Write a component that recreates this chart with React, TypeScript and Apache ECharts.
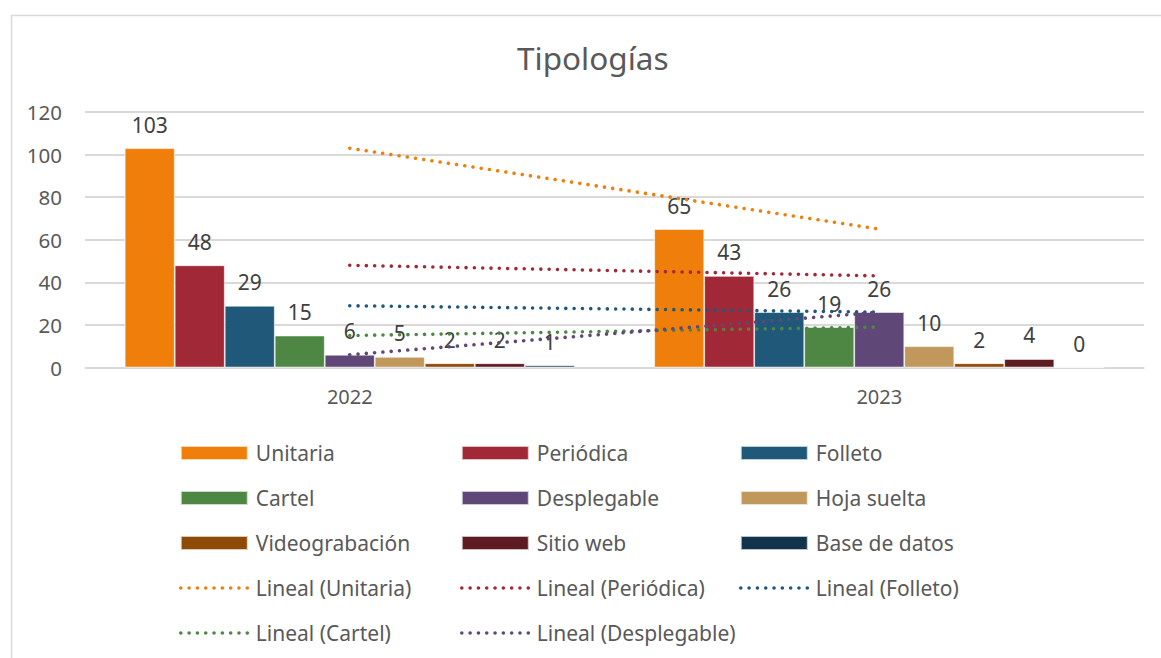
import React, { useEffect, useRef } from "react";
import * as echarts from "echarts";

const categories = ["2022", "2023"];
const barSeriesNames = [
  "Unitaria",
  "Periódica",
  "Folleto",
  "Cartel",
  "Desplegable",
  "Hoja suelta",
  "Videograbación",
  "Sitio web",
  "Base de datos",
];
const unitaria = [103, 65];
const periodica = [48, 43];
const folleto = [29, 26];
const cartel = [15, 19];
const desplegable = [6, 26];
const hojaSuelta = [5, 10];
const videograbacion = [2, 2];
const sitioWeb = [2, 4];
const baseDatos = [1, 0];
const barValues = [unitaria, periodica, folleto, cartel, desplegable, hojaSuelta, videograbacion, sitioWeb, baseDatos];
const barColors = ["#EF7F0A", "#A12836", "#1F5879", "#4E8743", "#5F4877", "#C1985C", "#8E4A07", "#5F1B22", "#11344A"];

const trendNames = ["Lineal (Unitaria)", "Lineal (Periódica)", "Lineal (Folleto)", "Lineal (Cartel)", "Lineal (Desplegable)"];
const trendValues = [unitaria, periodica, folleto, cartel, desplegable];
const trendColors = ["#EF7F0A", "#A12836", "#1F5879", "#4E8743", "#5F4877"];

const yTicks = { min: 0, max: 120, interval: 20 };

const FONT = "'Noto Sans', sans-serif";
const DOTS = [0.01, 8.3];

export default function App() {
  const ref = useRef<HTMLDivElement>(null);
  useEffect(() => {
    if (!ref.current) return;
    const chart = echarts.init(ref.current, null, { renderer: "svg" });
    const bars = barSeriesNames.map((name, i) => ({
      name,
      type: "bar",
      data: barValues[i],
      barGap: "0%",
      barCategoryGap: "15%",
      itemStyle: { color: barColors[i], borderColor: "rgba(255,255,255,0.7)", borderWidth: 0.8 },
      label: {
        show: true,
        position: "top",
        distance: 13,
        fontFamily: FONT,
        fontSize: 21,
        color: "#404040",
      },
      z: 2,
    }));
    const lines = trendNames.map((name, i) => ({
      name,
      type: "line",
      data: trendValues[i],
      symbol: "none",
      lineStyle: { color: trendColors[i], width: 3.6, type: DOTS, cap: "round" },
      itemStyle: { color: trendColors[i] },
      z: 5,
    }));
    const legendCommon = {
      orient: "vertical",
      top: 437,
      itemWidth: 67,
      itemHeight: 14,
      itemGap: 23,
      textStyle: { fontFamily: FONT, fontSize: 21, color: "#595959", lineHeight: 22, padding: [0, 0, 0, 3] },
    };
    const bi = (n: string) => ({ name: n, icon: "rect" });
    const li = (n: string, i: number) => ({
      name: n,
      itemStyle: { opacity: 0 },
      lineStyle: { color: trendColors[i], width: 3.6, type: DOTS, cap: "round", opacity: 1 },
    });
    chart.setOption({
      animation: false,
      title: {
        text: "Tipologías",
        left: 512,
        top: 36,
        textStyle: { fontFamily: FONT, fontSize: 31.5, fontWeight: "normal", color: "#595959" },
      },
      grid: { left: 85, right: 17, top: 112, bottom: 290.5, containLabel: false },
      xAxis: {
        type: "category",
        data: categories,
        axisLine: { lineStyle: { color: "#D9D9D9", width: 1.5 } },
        axisTick: { show: false },
        axisLabel: { fontFamily: FONT, fontSize: 20, color: "#595959", margin: 19 },
      },
      yAxis: {
        type: "value",
        min: yTicks.min,
        max: yTicks.max,
        interval: yTicks.interval,
        axisLine: { show: false },
        axisTick: { show: false },
        axisLabel: { fontFamily: FONT, fontSize: 20.5, color: "#595959", margin: 23 },
        splitLine: { lineStyle: { color: "#D9D9D9", width: 1.8 } },
      },
      legend: [
        {
          ...legendCommon,
          left: 174,
          data: [bi("Unitaria"), bi("Cartel"), bi("Videograbación"), li("Lineal (Unitaria)", 0), li("Lineal (Cartel)", 3)],
        },
        {
          ...legendCommon,
          left: 455,
          data: [bi("Periódica"), bi("Desplegable"), bi("Sitio web"), li("Lineal (Periódica)", 1), li("Lineal (Desplegable)", 4)],
        },
        {
          ...legendCommon,
          left: 734,
          data: [bi("Folleto"), bi("Hoja suelta"), bi("Base de datos"), li("Lineal (Folleto)", 2)],
        },
      ],
      graphic: [
        {
          type: "rect",
          left: 9,
          top: 13,
          shape: { x: 0, y: 0, width: 1200, height: 700 },
          style: { fill: "none", stroke: "#D9D9D9", lineWidth: 1.5 },
          silent: true,
        },
      ],
      series: [...bars, ...lines],
    });
    return () => chart.dispose();
  }, []);
  return (
    <div
      ref={ref}
      style={{ position: "absolute", left: 0, top: 0, width: 1161, height: 658, background: "#fff" }}
    />
  );
}
